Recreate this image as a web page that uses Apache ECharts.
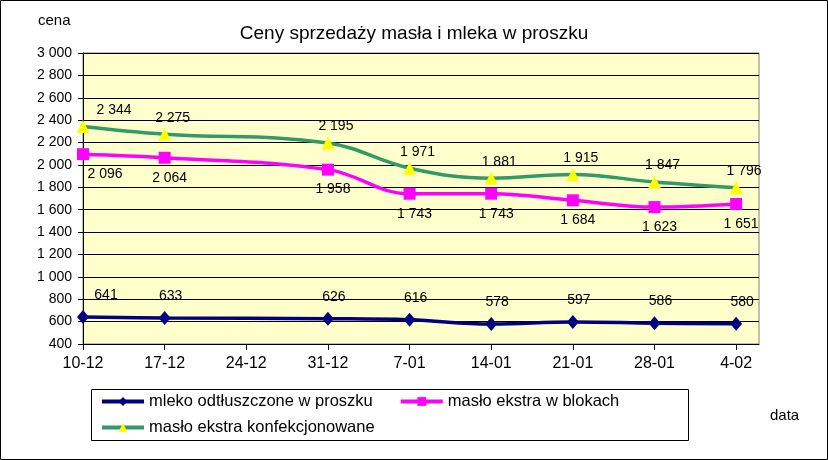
<!DOCTYPE html>
<html>
<head>
<meta charset="utf-8">
<script src="https://cdn.jsdelivr.net/npm/echarts@6/dist/echarts.min.js"></script>
<style>
  html, body { margin: 0; padding: 0; background: #fff; }
  #chart { width: 828px; height: 460px; }
</style>
</head>
<body>
<div id="chart"></div>
<script>
// tygodnie notowań
const categories = ['10-12', '17-12', '24-12', '31-12', '7-01', '14-01', '21-01', '28-01', '4-02']
// ceny (brak notowania 24-12)
const mleko = [641, 633, null, 626, 616, 578, 597, 586, 580]
const masloBloki = [2096, 2064, null, 1958, 1743, 1743, 1684, 1623, 1651]
const masloKonf = [2344, 2275, null, 2195, 1971, 1881, 1915, 1847, 1796]
const yTicks = [400, 3000, 200] // min, max, krok

const font = '"Liberation Sans", Arial, sans-serif'

function fmt(v) {
  return String(v).replace(/\B(?=(\d{3})+(?!\d))/g, ' ')
}

// pary [indeks, wartość], pomijamy brakujące tygodnie;
// etykieta pierwszego punktu odsunięta od osi Y
function points(values, firstShift) {
  return values.map((v, i) => {
    const item = { value: [i, v] }
    if (i === 0) item.label = { offset: [firstShift, 0] }
    return item
  }).filter(p => p.value[1] !== null)
}

const catIdx = categories.map((c, i) => i)

const labelBase = {
  show: true,
  formatter: p => fmt(p.value[1]),
  fontSize: 14,
  color: '#000',
  fontFamily: font
}

const chart = echarts.init(document.getElementById('chart'), null, { renderer: 'canvas' })

chart.setOption({
  animation: false,
  textStyle: { fontFamily: font },
  title: {
    text: 'Ceny sprzedaży masła i mleka w proszku',
    left: 409,
    top: 19,
    textAlign: 'center',
    textStyle: { fontSize: 19, fontWeight: 'normal', color: '#000', fontFamily: font }
  },
  grid: {
    left: 83,
    top: 53,
    right: 69,
    bottom: 116,
    show: true,
    backgroundColor: '#ffffcc',
    borderColor: '#808080',
    borderWidth: 1
  },
  legend: [
    {
      data: ['mleko odtłuszczone w proszku', 'masło ekstra w blokach'],
      left: 100,
      top: 393,
      padding: 0,
      itemGap: 26,
      itemWidth: 42,
      itemHeight: 11,
      lineStyle: { width: 4 },
      textStyle: { fontSize: 16.5, color: '#000', fontFamily: font }
    },
    {
      data: ['masło ekstra konfekcjonowane'],
      left: 100,
      top: 419,
      padding: 0,
      itemWidth: 42,
      itemHeight: 11,
      lineStyle: { width: 4 },
      textStyle: { fontSize: 16.5, color: '#000', fontFamily: font }
    }
  ],
  graphic: [
    {
      type: 'rect',
      shape: { x: 0.5, y: 0.5, width: 827, height: 459 },
      style: { fill: null, stroke: '#000', lineWidth: 1 },
      silent: true
    },
    {
      type: 'rect',
      shape: { x: 91.5, y: 389.5, width: 597, height: 51 },
      style: { fill: null, stroke: '#000', lineWidth: 1 },
      silent: true,
      z: -1
    },
    {
      type: 'text',
      left: 38,
      top: 13,
      style: { text: 'cena', fontSize: 15, fill: '#000', fontFamily: font }
    },
    {
      type: 'text',
      left: 770,
      top: 408,
      style: { text: 'data', fontSize: 15, fill: '#000', fontFamily: font }
    }
  ],
  xAxis: {
    type: 'value',
    min: 0,
    max: 8.28,
    splitLine: { show: false },
    axisLine: { show: true, onZero: false, lineStyle: { color: '#000', width: 1 } },
    axisTick: { show: true, length: 6, customValues: catIdx, lineStyle: { color: '#000' } },
    axisLabel: {
      customValues: catIdx,
      formatter: v => categories[Math.round(v)],
      fontSize: 16,
      color: '#000',
      margin: 12,
      fontFamily: font
    }
  },
  yAxis: {
    type: 'value',
    min: yTicks[0],
    max: yTicks[1],
    interval: yTicks[2],
    axisLine: { show: true, lineStyle: { color: '#000', width: 1 } },
    axisTick: { show: true, length: 5, lineStyle: { color: '#000' } },
    splitLine: { show: true, lineStyle: { color: '#000', width: 1 } },
    axisLabel: {
      formatter: fmt,
      fontSize: 14,
      color: '#000',
      margin: 11,
      fontFamily: font
    }
  },
  series: [
    {
      name: 'mleko odtłuszczone w proszku',
      type: 'line',
      data: points(mleko, 23),
      smooth: 0.4,
      symbol: 'diamond',
      symbolSize: [12, 14],
      lineStyle: { color: '#000080', width: 3.5 },
      itemStyle: { color: '#000080' },
      label: Object.assign({}, labelBase, { position: 'top', distance: 8, offset: [6, 0] })
    },
    {
      name: 'masło ekstra w blokach',
      type: 'line',
      data: points(masloBloki, 22),
      smooth: 0.4,
      symbol: 'rect',
      symbolSize: 12,
      lineStyle: { color: '#ff00ff', width: 3.5 },
      itemStyle: { color: '#ff00ff' },
      label: Object.assign({}, labelBase, { position: 'bottom', distance: 7, offset: [5, 0] })
    },
    {
      name: 'masło ekstra konfekcjonowane',
      type: 'line',
      data: points(masloKonf, 31),
      smooth: 0.4,
      symbol: 'triangle',
      symbolSize: 13,
      lineStyle: { color: '#339966', width: 3.5 },
      itemStyle: { color: '#ffff00' },
      label: Object.assign({}, labelBase, { position: 'top', distance: 3, offset: [8, 0] })
    }
  ]
})
</script>
</body>
</html>
